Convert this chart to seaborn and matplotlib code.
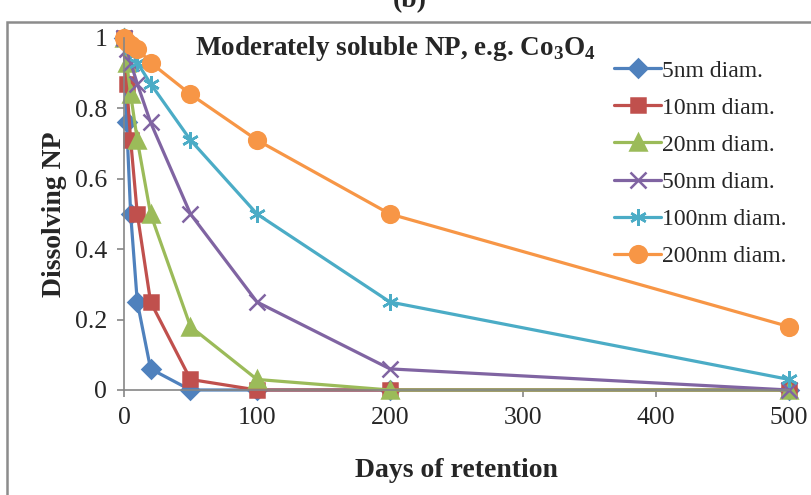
import pandas as pd
import matplotlib.pyplot as plt
import matplotlib.patches as patches
import seaborn as sns

# days of retention (shared by all series)
days = [0, 2, 5, 10, 20, 50, 100, 200, 500]

nm5 = [1.0, 0.76, 0.5, 0.25, 0.06, 0.0, 0.0, 0.0, 0.0]
nm10 = [1.0, 0.87, 0.71, 0.5, 0.25, 0.03, 0.0, 0.0, 0.0]
nm20 = [1.0, 0.93, 0.84, 0.71, 0.5, 0.18, 0.03, 0.0, 0.0]
nm50 = [1.0, 0.97, 0.93, 0.87, 0.76, 0.5, 0.25, 0.06, 0.0]
nm100 = [1.0, 0.99, 0.97, 0.93, 0.87, 0.71, 0.5, 0.25, 0.03]
nm200 = [1.0, 0.99, 0.98, 0.97, 0.93, 0.84, 0.71, 0.5, 0.18]

labels = ['5nm diam.', '10nm diam.', '20nm diam.', '50nm diam.', '100nm diam.', '200nm diam.']
x_ticks = [0, 100, 200, 300, 400, 500]
y_ticks = [0, 0.2, 0.4, 0.6, 0.8, 1.0]
y_tick_labels = ['0', '0.2', '0.4', '0.6', '0.8', '1']

sns.set_style("ticks")
plt.rcParams['font.family'] = ['Liberation Serif', 'DejaVu Serif']
plt.rcParams['mathtext.fontset'] = 'custom'
plt.rcParams['mathtext.rm'] = 'Liberation Serif:bold'
plt.rcParams['mathtext.bf'] = 'Liberation Serif:bold'

series = [nm5, nm10, nm20, nm50, nm100, nm200]
colors = ['#4F81BD', '#C0504D', '#9BBB59', '#8064A2', '#4BACC6', '#F79646']
markers = ['D', 's', '^', 'x', (6, 2, 0), 'o']
msizes = [9, 10, 11, 11, 12, 12]

fig = plt.figure(figsize=(8.12, 4.95), dpi=100)
ax = fig.add_axes([124 / 812, 1 - 390 / 495, (789 - 124) / 812, (390 - 38) / 495])

for vals, lab, col, mk, ms in zip(series, labels, colors, markers, msizes):
    df = pd.DataFrame({'days': days, 'value': vals})
    sns.lineplot(data=df, x='days', y='value', ax=ax, label=lab, color=col,
                 marker=mk, markersize=ms, linewidth=2.3,
                 markeredgecolor=col, markeredgewidth=1.8, clip_on=False)

ax.set_xlim(0, 500)
ax.set_ylim(0, 1)
ax.set_xticks(x_ticks)
ax.set_yticks(y_ticks)
ax.set_yticklabels(y_tick_labels)
ax.tick_params(axis='both', labelsize=18.5, length=5, width=1.2, color='#868686', pad=7)
for s in ['top', 'right']:
    ax.spines[s].set_visible(False)
for s in ['left', 'bottom']:
    ax.spines[s].set_color('#868686')
    ax.spines[s].set_linewidth(1.2)

ax.set_xlabel('Days of retention', fontsize=20, fontweight='bold', labelpad=21)
ax.set_ylabel('Dissolving NP', fontsize=20, fontweight='bold', labelpad=6)

ax.text(195 / 812, 1 - 55 / 495, r'Moderately soluble NP, e.g. Co$_\mathbf{3}$O$_\mathbf{4}$',
        transform=fig.transFigure, fontsize=19.5, fontweight='bold', va='baseline')

leg = ax.legend(loc='upper left', bbox_to_anchor=(614 / 812, 1 - 60 / 495),
                bbox_transform=fig.transFigure, frameon=False, fontsize=17,
                handlelength=2.0, handletextpad=0.05, labelspacing=0.66,
                borderpad=0, borderaxespad=0)

fig.text(0.505, 1 - 7 / 495, '(b)', fontsize=20, fontweight='bold', ha='center', va='baseline')

frame = patches.Rectangle((7 / 812, -0.2), 1.2, 1.2 - 22 / 495, transform=fig.transFigure,
                          fill=False, edgecolor='#8c8c8c', linewidth=1.8, clip_on=False)
fig.patches.append(frame)

plt.savefig('out.png', dpi=100)
